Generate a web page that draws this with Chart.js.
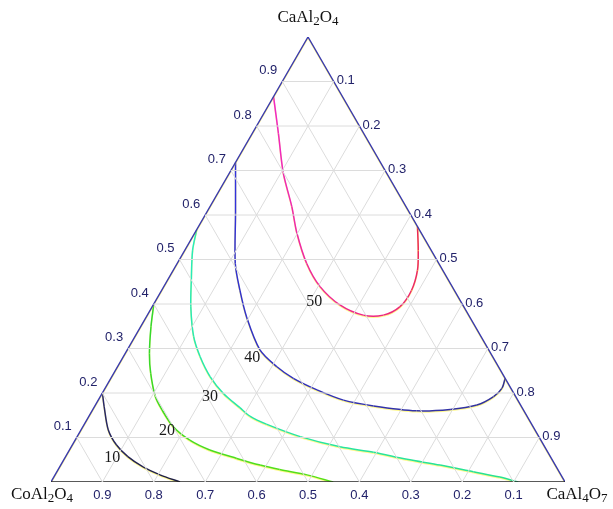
<!DOCTYPE html>
<html>
<head>
<meta charset="utf-8">
<script src="https://cdn.jsdelivr.net/npm/chart.js@4"></script>
<style>
  body { margin: 0; background: #fff; }
  #wrap { width: 613px; height: 509px; }
</style>
</head>
<body>
<div id="wrap"><canvas id="ternary" width="613" height="509"></canvas></div>
<script>
// composition ticks along each side
const ticks = [0.1, 0.2, 0.3, 0.4, 0.5, 0.6, 0.7, 0.8, 0.9];
const tickLabels = ['0.1', '0.2', '0.3', '0.4', '0.5', '0.6', '0.7', '0.8', '0.9'];

// vertex names, split into [text, subscript, text, subscript]
const topName = ['CaAl', '2', 'O', '4'];
const leftName = ['CoAl', '2', 'O', '4'];
const rightName = ['CaAl', '4', 'O', '7'];

// contour points as [CaAl2O4 fraction, CaAl4O7 fraction]
const contour10 = [[0.20, 0.000], [0.169, 0.019], [0.117, 0.053], [0.083, 0.086], [0.057, 0.121],
    [0.034, 0.162], [0.016, 0.204], [0.0, 0.251]];
const contour20 = [[0.40, 0.000], [0.349, 0.020], [0.289, 0.047], [0.244, 0.072], [0.192, 0.107],
    [0.162, 0.135], [0.124, 0.176], [0.094, 0.223], [0.072, 0.273], [0.053, 0.335], [0.038, 0.388],
    [0.028, 0.431], [0.016, 0.490], [0.0, 0.549]];
const contour30 = [[0.567, 0.000], [0.521, 0.015], [0.454, 0.046], [0.394, 0.075], [0.327, 0.114],
    [0.282, 0.149], [0.237, 0.191], [0.199, 0.236], [0.167, 0.284], [0.148, 0.313], [0.130, 0.354],
    [0.102, 0.434], [0.079, 0.523], [0.067, 0.594], [0.051, 0.667], [0.038, 0.738], [0.023, 0.810],
    [0.011, 0.868], [0.0, 0.909]];
const contour40 = [[0.718, 0.000], [0.604, 0.057], [0.491, 0.113], [0.431, 0.152], [0.371, 0.195],
    [0.297, 0.258], [0.259, 0.310], [0.233, 0.355], [0.207, 0.414], [0.184, 0.477], [0.171, 0.542],
    [0.160, 0.631], [0.163, 0.695], [0.173, 0.742], [0.192, 0.765], [0.211, 0.772], [0.233, 0.767]];
const contour50 = [[0.866, 0.000], [0.783, 0.051], [0.694, 0.105], [0.619, 0.159], [0.559, 0.199],
    [0.491, 0.252], [0.439, 0.304], [0.398, 0.363], [0.375, 0.420], [0.375, 0.459], [0.394, 0.482],
    [0.431, 0.486], [0.476, 0.475], [0.521, 0.454], [0.574, 0.426]];

const contourLevels = ['10', '20', '30', '40', '50'];
// where each level's label sits, [CaAl2O4, CaAl4O7]
const contourLabelAt = [[0.054, 0.092], [0.115, 0.168], [0.191, 0.214], [0.279, 0.252], [0.404, 0.310]];

const H = Math.sqrt(3) / 2;
function toXY(a, c) {
    return { x: c + a / 2, y: a * H };
}

function gridLines() {
    const sets = [];
    ticks.forEach(t => {
        sets.push([toXY(t, 0), toXY(t, 1 - t)]);          // constant CaAl2O4
        sets.push([toXY(0, t), toXY(1 - t, t)]);          // constant CaAl4O7
        sets.push([toXY(0, 1 - t), toXY(1 - t, 0)]);      // constant CoAl2O4
    });
    return sets.map(pts => ({
        data: pts,
        borderColor: '#dcdcdc',
        borderWidth: 1,
        tension: 0
    }));
}

function mix(c1, c2, f) {
    const r = Math.round(c1[0] + (c2[0] - c1[0]) * f);
    const g = Math.round(c1[1] + (c2[1] - c1[1]) * f);
    const b = Math.round(c1[2] + (c2[2] - c1[2]) * f);
    return `rgb(${r},${g},${b})`;
}

function contourSet(points, from, to) {
    const n = points.length - 1;
    return {
        data: points.map(p => toXY(p[0], p[1])),
        borderColor: mix(from, to, 0.5),
        borderWidth: 1.5,
        tension: 0.3,
        shadow: true,
        segment: {
            borderColor: ctx => mix(from, to, ctx.p0DataIndex / n)
        }
    };
}

const datasets = [
    ...gridLines(),
    { data: [toXY(0, 0), toXY(0, 1)], borderColor: '#222222', borderWidth: 1.6, tension: 0 },
    { data: [toXY(0, 0), toXY(1, 0), toXY(0, 1)], borderColor: '#3a3ab0', borderWidth: 1.4, tension: 0, shadow: true },
    contourSet(contour10, [40, 40, 110], [30, 30, 60]),
    contourSet(contour20, [50, 215, 50], [90, 225, 20]),
    contourSet(contour30, [40, 235, 190], [40, 225, 140]),
    contourSet(contour40, [50, 50, 220], [50, 50, 140]),
    contourSet(contour50, [240, 40, 200], [235, 40, 80])
];

const shadowPlugin = {
    id: 'shadow',
    beforeDatasetDraw(chart, args) {
        if (!args.meta._dataset.shadow) return;
        const ctx = chart.ctx;
        ctx.save();
        ctx.shadowColor = 'rgba(255, 240, 0, 0.45)';
        ctx.shadowOffsetX = 0;
        ctx.shadowOffsetY = 1;
        ctx.shadowBlur = 0;
    },
    afterDatasetDraw(chart, args) {
        if (!args.meta._dataset.shadow) return;
        chart.ctx.restore();
    }
};

function drawChem(ctx, parts, cx, cy) {
    const big = '17px "Liberation Serif", "Times New Roman", serif';
    const small = '13px "Liberation Serif", "Times New Roman", serif';
    let w = 0;
    parts.forEach((p, i) => {
        ctx.font = i % 2 ? small : big;
        w += ctx.measureText(p).width;
    });
    let x = cx - w / 2;
    ctx.textAlign = 'left';
    ctx.textBaseline = 'alphabetic';
    parts.forEach((p, i) => {
        ctx.font = i % 2 ? small : big;
        ctx.fillText(p, x, cy + 5 + (i % 2 ? 3 : 0));
        x += ctx.measureText(p).width;
    });
}

const labelPlugin = {
    id: 'ternaryLabels',
    afterDatasetsDraw(chart) {
        const ctx = chart.ctx;
        const xs = chart.scales.x;
        const ys = chart.scales.y;
        const px = p => xs.getPixelForValue(p.x);
        const py = p => ys.getPixelForValue(p.y);
        ctx.save();

        ctx.fillStyle = '#22226a';
        ctx.font = '13px "Liberation Sans", Arial, sans-serif';
        ctx.textBaseline = 'middle';
        ticks.forEach((t, i) => {
            let p = toXY(t, 0);
            ctx.textAlign = 'center';
            ctx.fillText(tickLabels[i], px(p) - 14, py(p) - 11);

            p = toXY(1 - t, t);
            ctx.textAlign = 'left';
            ctx.fillText(tickLabels[i], px(p) + 3, py(p) - 1);

            p = toXY(0, 1 - t);
            ctx.textAlign = 'center';
            ctx.fillText(tickLabels[i], px(p), py(p) + 13);
        });

        ctx.fillStyle = '#111111';
        let p = toXY(1, 0);
        drawChem(ctx, topName, px(p), py(p) - 20);
        p = toXY(0, 0);
        drawChem(ctx, leftName, px(p) - 9, py(p) + 12);
        p = toXY(0, 1);
        drawChem(ctx, rightName, px(p) + 12, py(p) + 12);

        ctx.fillStyle = '#1a1a1a';
        ctx.font = '16px "Liberation Serif", "Times New Roman", serif';
        ctx.textAlign = 'center';
        ctx.textBaseline = 'middle';
        contourLevels.forEach((lv, i) => {
            const q = toXY(contourLabelAt[i][0], contourLabelAt[i][1]);
            ctx.fillText(lv, px(q), py(q));
        });
        ctx.restore();
    }
};

new Chart(document.getElementById('ternary').getContext('2d'), {
    type: 'scatter',
    data: { datasets: datasets },
    options: {
        responsive: false,
        animation: false,
        devicePixelRatio: 1,
        showLine: true,
        layout: {
            padding: { left: 51, right: 48, top: 37, bottom: 27 }
        },
        elements: {
            point: { radius: 0, hoverRadius: 0 },
            line: { fill: false }
        },
        plugins: {
            legend: { display: false },
            tooltip: { enabled: false }
        },
        scales: {
            x: { type: 'linear', min: 0, max: 1, display: false },
            y: { type: 'linear', min: 0, max: H, display: false }
        }
    },
    plugins: [shadowPlugin, labelPlugin]
});
</script>
</body>
</html>
